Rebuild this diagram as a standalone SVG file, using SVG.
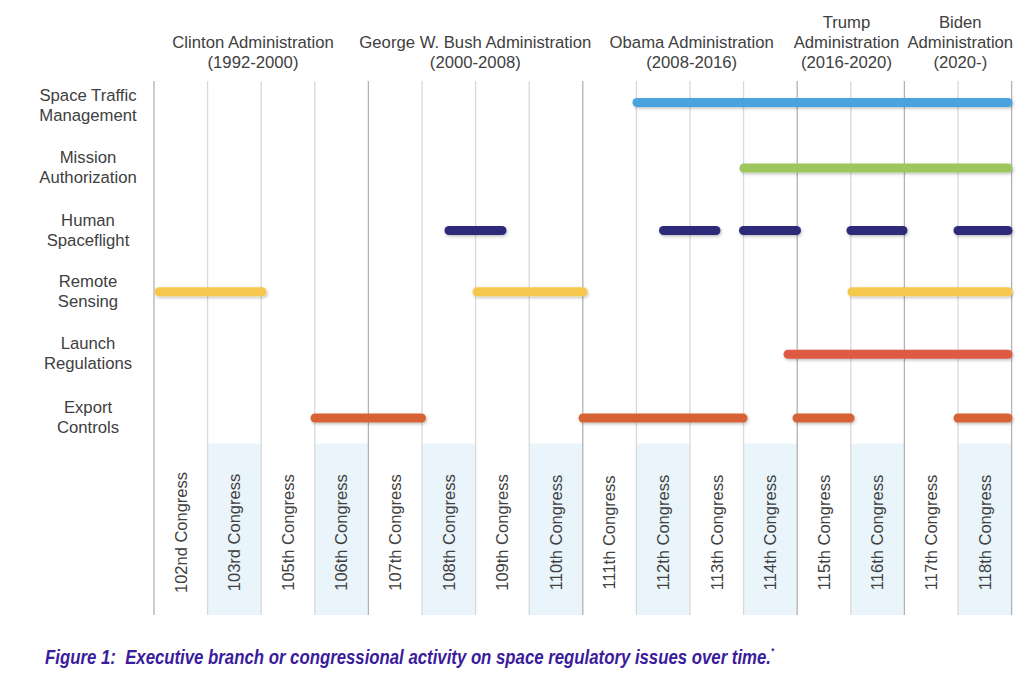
<svg xmlns="http://www.w3.org/2000/svg" width="1024" height="687" viewBox="0 0 1024 687">
<defs>
<style>
.t{font-family:"Liberation Sans",Arial,sans-serif;font-size:16.7px;fill:#404040;text-anchor:middle}
.c{font-family:"Liberation Sans",Arial,sans-serif;font-size:16.5px;fill:#404040;text-anchor:middle}
.gl{stroke:#d9d9d9;stroke-width:1.3}
.gd{stroke:#b3b3b3;stroke-width:1.3}
.sh{fill:#eaf4fb}
.bar{stroke-width:9;stroke-linecap:round;fill:none}
.blue{stroke:#4aa3df}
.green{stroke:#9cc75f}
.navy{stroke:#2e2a7a}
.yel{stroke:#f5c74d}
.red{stroke:#df5a43}
.org{stroke:#d66234}
.cap{font-family:"Liberation Sans",Arial,sans-serif;font-weight:bold;font-style:italic;fill:#3a1c9c}
</style>
<filter id="ds" filterUnits="userSpaceOnUse" x="0" y="0" width="1024" height="687">
<feDropShadow dx="1" dy="1.5" stdDeviation="1.5" flood-color="#000" flood-opacity="0.25"/>
</filter>
</defs>
<rect width="1024" height="687" fill="#fff"/>
<g id="shading">
<rect class="sh" x="207.6" y="443.5" width="53.6" height="171.5"/>
<rect class="sh" x="314.8" y="443.5" width="53.6" height="171.5"/>
<rect class="sh" x="422" y="443.5" width="53.6" height="171.5"/>
<rect class="sh" x="529.2" y="443.5" width="53.6" height="171.5"/>
<rect class="sh" x="636.4" y="443.5" width="53.6" height="171.5"/>
<rect class="sh" x="743.6" y="443.5" width="53.6" height="171.5"/>
<rect class="sh" x="850.8" y="443.5" width="53.6" height="171.5"/>
<rect class="sh" x="958" y="443.5" width="53.6" height="171.5"/>
</g>
<g id="grid">
<line class="gd" x1="154" y1="81" x2="154" y2="615"/>
<line class="gl" x1="207.6" y1="81" x2="207.6" y2="615"/>
<line class="gl" x1="261.2" y1="81" x2="261.2" y2="615"/>
<line class="gl" x1="314.8" y1="81" x2="314.8" y2="615"/>
<line class="gd" x1="368.4" y1="81" x2="368.4" y2="615"/>
<line class="gl" x1="422" y1="81" x2="422" y2="615"/>
<line class="gl" x1="475.6" y1="81" x2="475.6" y2="615"/>
<line class="gl" x1="529.2" y1="81" x2="529.2" y2="615"/>
<line class="gd" x1="582.8" y1="81" x2="582.8" y2="615"/>
<line class="gl" x1="636.4" y1="81" x2="636.4" y2="615"/>
<line class="gl" x1="690" y1="81" x2="690" y2="615"/>
<line class="gl" x1="743.6" y1="81" x2="743.6" y2="615"/>
<line class="gd" x1="797.2" y1="81" x2="797.2" y2="615"/>
<line class="gl" x1="850.8" y1="81" x2="850.8" y2="615"/>
<line class="gd" x1="904.4" y1="81" x2="904.4" y2="615"/>
<line class="gl" x1="958" y1="81" x2="958" y2="615"/>
<line class="gd" x1="1011.6" y1="81" x2="1011.6" y2="615"/>
</g>
<g id="administrations">
<g id="clinton"><text class="t" x="253" y="48.3">Clinton Administration</text><text class="t" x="253" y="68.3">(1992-2000)</text></g>
<g id="bush"><text class="t" x="475.3" y="48.3">George W. Bush Administration</text><text class="t" x="475.3" y="68.3">(2000-2008)</text></g>
<g id="obama"><text class="t" x="691.7" y="48.3">Obama Administration</text><text class="t" x="691.7" y="68.3">(2008-2016)</text></g>
<g id="trump"><text class="t" x="846.5" y="28.3">Trump</text><text class="t" x="846.5" y="48.3">Administration</text><text class="t" x="846.5" y="68.3">(2016-2020)</text></g>
<g id="biden"><text class="t" x="960.3" y="28.3">Biden</text><text class="t" x="960.3" y="48.3">Administration</text><text class="t" x="960.3" y="68.3">(2020-)</text></g>
</g>
<g id="categories">
<g id="cat-stm"><text class="t" x="88" y="100.7">Space Traffic</text><text class="t" x="88" y="120.7">Management</text></g>
<g id="cat-ma"><text class="t" x="88" y="163.3">Mission</text><text class="t" x="88" y="183.3">Authorization</text></g>
<g id="cat-hs"><text class="t" x="88" y="225.7">Human</text><text class="t" x="88" y="245.5">Spaceflight</text></g>
<g id="cat-rs"><text class="t" x="88" y="286.7">Remote</text><text class="t" x="88" y="306.7">Sensing</text></g>
<g id="cat-lr"><text class="t" x="88" y="349.3">Launch</text><text class="t" x="88" y="369.3">Regulations</text></g>
<g id="cat-ec"><text class="t" x="88" y="413">Export</text><text class="t" x="88" y="432.7">Controls</text></g>
</g>
<g id="connectors" filter="url(#ds)">
<line class="bar blue" x1="637" y1="102.5" x2="1008" y2="102.5"/>
<line class="bar green" x1="744" y1="168" x2="1008" y2="168"/>
<line class="bar navy" x1="449" y1="230.5" x2="502" y2="230.5"/>
<line class="bar navy" x1="663.5" y1="230.5" x2="716" y2="230.5"/>
<line class="bar navy" x1="743.5" y1="230.5" x2="796.5" y2="230.5"/>
<line class="bar navy" x1="851" y1="230.5" x2="903" y2="230.5"/>
<line class="bar navy" x1="958" y1="230.5" x2="1008" y2="230.5"/>
<line class="bar yel" x1="159" y1="291.7" x2="262" y2="291.7"/>
<line class="bar yel" x1="477" y1="291.7" x2="583" y2="291.7"/>
<line class="bar yel" x1="852" y1="291.7" x2="1008" y2="291.7"/>
<line class="bar red" x1="788" y1="354.3" x2="1008" y2="354.3"/>
<line class="bar org" x1="315" y1="418" x2="421.5" y2="418"/>
<line class="bar org" x1="583" y1="418" x2="743" y2="418"/>
<line class="bar org" x1="797" y1="418" x2="850" y2="418"/>
<line class="bar org" x1="958" y1="418" x2="1008" y2="418"/>
</g>
<g id="congresses">
<text class="c" transform="translate(186.6,532.5) rotate(-90)">102nd Congress</text>
<text class="c" transform="translate(240.2,532.5) rotate(-90)">103rd Congress</text>
<text class="c" transform="translate(293.8,532.5) rotate(-90)">105th Congress</text>
<text class="c" transform="translate(347.4,532.5) rotate(-90)">106th Congress</text>
<text class="c" transform="translate(401,532.5) rotate(-90)">107th Congress</text>
<text class="c" transform="translate(454.6,532.5) rotate(-90)">108th Congress</text>
<text class="c" transform="translate(508.2,532.5) rotate(-90)">109th Congress</text>
<text class="c" transform="translate(561.8,532.5) rotate(-90)">110th Congress</text>
<text class="c" transform="translate(615.4,532.5) rotate(-90)">111th Congress</text>
<text class="c" transform="translate(669,532.5) rotate(-90)">112th Congress</text>
<text class="c" transform="translate(722.6,532.5) rotate(-90)">113th Congress</text>
<text class="c" transform="translate(776.2,532.5) rotate(-90)">114th Congress</text>
<text class="c" transform="translate(829.8,532.5) rotate(-90)">115th Congress</text>
<text class="c" transform="translate(883.4,532.5) rotate(-90)">116th Congress</text>
<text class="c" transform="translate(937,532.5) rotate(-90)">117th Congress</text>
<text class="c" transform="translate(990.6,532.5) rotate(-90)">118th Congress</text>
</g>
<g id="caption">
<text class="cap" x="45" y="664" font-size="19.5" textLength="729" lengthAdjust="spacingAndGlyphs" xml:space="preserve">Figure 1:  Executive branch or congressional activity on space regulatory issues over time.<tspan font-size="9" dy="-10">*</tspan></text>
</g>
</svg>
